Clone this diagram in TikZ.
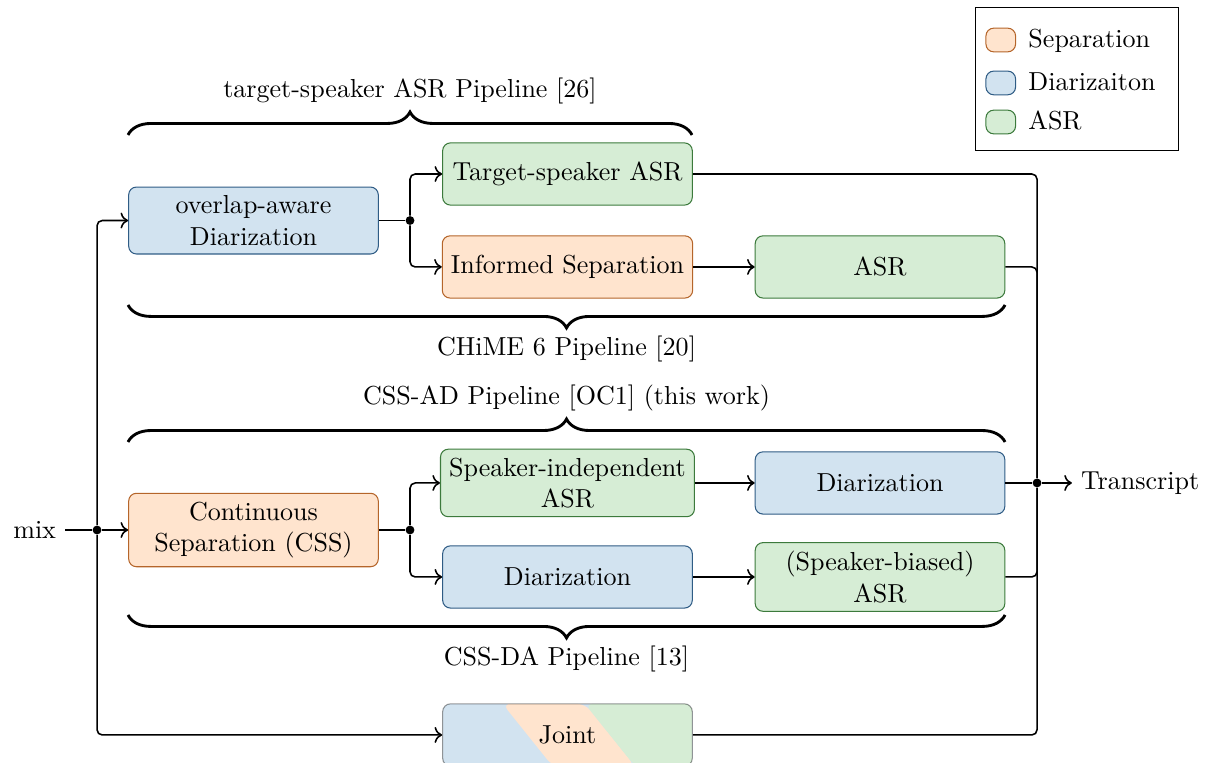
\documentclass[tikz,border=0pt]{standalone}
\usetikzlibrary{arrows.meta,calc,decorations.pathreplacing}
\definecolor{sepline}{HTML}{B5652A}
\definecolor{sepfill}{HTML}{FFE4CE}
\definecolor{diarline}{HTML}{2F5C85}
\definecolor{diarfill}{HTML}{D2E3F0}
\definecolor{asrline}{HTML}{3C7A3C}
\definecolor{asrfill}{HTML}{D6EDD5}
\tikzset{
  stagebox/.style={rounded corners=3pt, minimum width=3.37cm, minimum height=.84cm,
    align=center},
  sepbox/.style={stagebox, draw=sepline, fill=sepfill},
  diarbox/.style={stagebox, draw=diarline, fill=diarfill},
  asrbox/.style={stagebox, draw=asrline, fill=asrfill},
  jointbox/.style={stagebox, draw=black, draw opacity=.4, fill=diarfill,
    path picture={
      \coordinate (jnw) at (path picture bounding box.north west);
      \coordinate (jne) at (path picture bounding box.north east);
      \coordinate (jsw) at (path picture bounding box.south west);
      \coordinate (jse) at (path picture bounding box.south east);
      \fill[sepfill] ($(jnw)!.24!(jne)$) -- ($(jnw)!.57!(jne)$)
        -- ($(jsw)!.77!(jse)$) -- ($(jsw)!.44!(jse)$) -- cycle;
      \fill[asrfill] ($(jnw)!.57!(jne)$) -- (jne) -- (jse)
        -- ($(jsw)!.77!(jse)$) -- cycle;
    }},
  swatch/.style={rounded corners=3pt, minimum width=.4cm, minimum height=.32cm,
    inner sep=0pt},
  legendtext/.style={anchor=west, text height=1.6ex, text depth=.3ex},
  flow/.style={semithick, rounded corners=2pt},
  flowarrow/.style={flow, ->},
  junction/.style={circle, fill, inner sep=0pt, minimum size=3.4pt},
  pipebrace/.style={decorate, decoration={brace, amplitude=.31cm}, line width=1.1pt}
}

\begin{document}
\begin{tikzpicture}[x=1cm,y=1cm]
  \useasboundingbox (0,0) rectangle (16.308,10.287);

  % stage boxes
  \node[diarbox] (ovl) at (3.422,7.310) {overlap-aware\\Diarization};
  \node[asrbox] (tsasr) at (7.661,7.938) {Target-speaker ASR};
  \node[sepbox] (infsep) at (7.661,6.683) {Informed Separation};
  \node[asrbox] (asrtop) at (11.880,6.683) {ASR};

  \node[sepbox] (css) at (3.422,3.132) {Continuous\\Separation (CSS)};
  \node[asrbox] (siasr) at (7.661,3.767) {Speaker-independent\\ASR};
  \node[diarbox] (diarad) at (11.880,3.767) {Diarization};
  \node[diarbox] (diarda) at (7.661,2.498) {Diarization};
  \node[asrbox] (sbasr) at (11.880,2.498) {(Speaker-biased)\\ASR};

  \node[jointbox] (joint) at (7.661,.365) {Joint};

  % input side
  \node[anchor=east] (mix) at (.88,3.132) {mix};
  \node[junction] (jin) at (1.310,3.132) {};
  \node[junction] (jovl) at (5.535,7.310) {};
  \node[junction] (jcss) at (5.535,3.132) {};
  \draw[flow] (mix) -- (jin);
  \draw[flowarrow] (jin) -- (css);
  \draw[flowarrow] (jin) |- (ovl.west);
  \draw[flowarrow] (jin) |- (joint.west);

  \draw[flow] (ovl) -- (jovl);
  \draw[flowarrow] (jovl) |- (tsasr.west);
  \draw[flowarrow] (jovl) |- (infsep.west);
  \draw[flowarrow] (infsep) -- (asrtop);

  \draw[flow] (css) -- (jcss);
  \draw[flowarrow] (jcss) |- (siasr.west);
  \draw[flowarrow] (jcss) |- (diarda.west);
  \draw[flowarrow] (siasr) -- (diarad);
  \draw[flowarrow] (diarda) -- (sbasr);

  % output side
  \node[junction] (jout) at (14.0,3.767) {};
  \node[anchor=west] (transcript) at (14.47,3.767) {Transcript};
  \draw[flow] (tsasr.east) -| (jout);
  \draw[flow] (asrtop.east) -| (jout);
  \draw[flow] (diarad) -- (jout);
  \draw[flow] (sbasr.east) -| (jout);
  \draw[flow] (joint.east) -| (jout);
  \draw[flowarrow] (jout) -- (transcript);

  % pipelines
  \draw[pipebrace] (1.728,8.465) -- node[above=.28cm] (tsasrpipe)
    {target-speaker ASR Pipeline [26]} (9.342,8.465);
  \draw[pipebrace] (13.568,6.170) -- node[below=.28cm] (chimepipe)
    {CHiME 6 Pipeline [20]} (1.728,6.170);
  \draw[pipebrace] (1.728,4.320) -- node[above=.28cm] (cssadpipe)
    {CSS-AD Pipeline [OC1] (this work)} (13.568,4.320);
  \draw[pipebrace] (13.568,1.985) -- node[below=.28cm] (cssdapipe)
    {CSS-DA Pipeline [13]} (1.728,1.985);

  % legend
  \draw (13.163,8.249) rectangle (15.903,10.184);
  \node[swatch, draw=sepline, fill=sepfill] (legsep) at (13.51,9.747) {};
  \node[swatch, draw=diarline, fill=diarfill] (legdiar) at (13.51,9.167) {};
  \node[swatch, draw=asrline, fill=asrfill] (legasr) at (13.51,8.640) {};
  \node[legendtext] at (13.76,9.747) {Separation};
  \node[legendtext] at (13.76,9.167) {Diarizaiton};
  \node[legendtext] at (13.76,8.640) {ASR};
\end{tikzpicture}
\end{document}
